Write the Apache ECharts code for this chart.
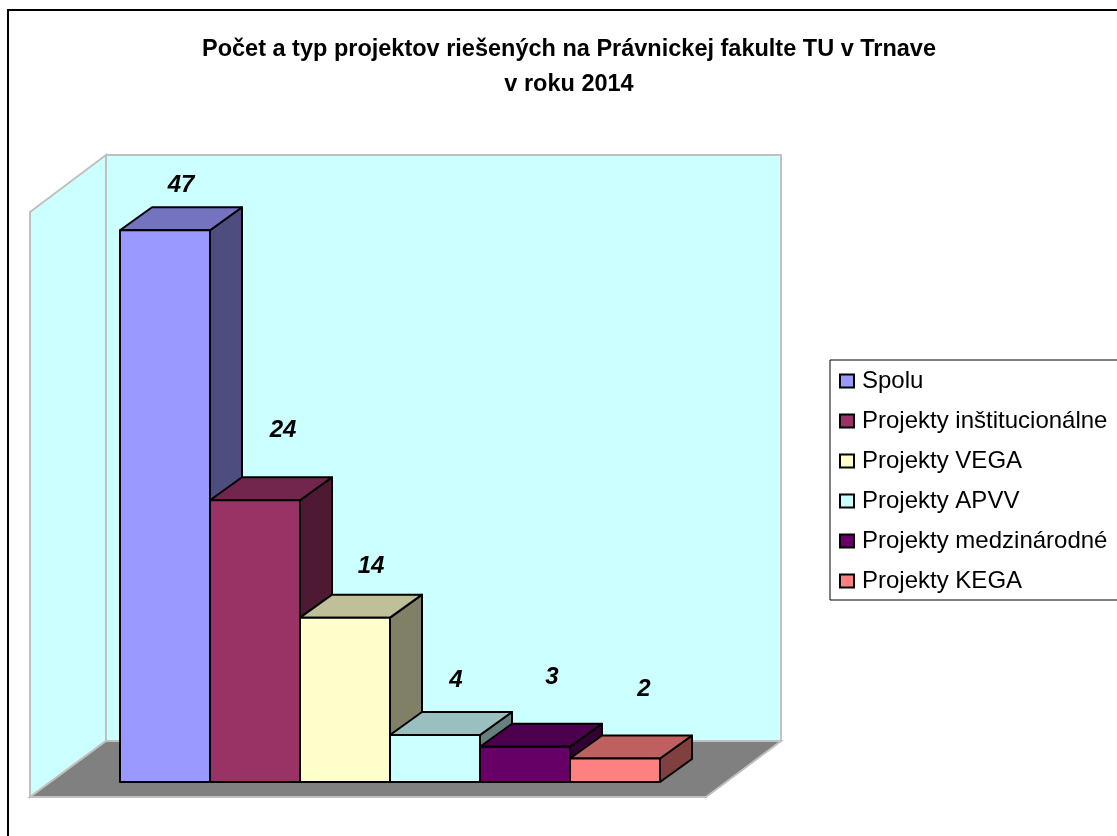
<!DOCTYPE html>
<html>
<head>
<meta charset="utf-8">
<title>Projekty</title>
<style>
	html, body {margin: 0; padding: 0; background: #fff;}
	#chart {width: 1117px; height: 836px;}
</style>
<script src="https://cdn.jsdelivr.net/npm/echarts@6/dist/echarts.min.js"></script>
</head>
<body>
<div id="chart"></div>
<script>
const titleText = "Počet a typ projektov riešených na Právnickej fakulte TU v Trnave\nv roku 2014";
const categories = ["Spolu", "Projekty inštitucionálne", "Projekty VEGA", "Projekty APVV", "Projekty medzinárodné", "Projekty KEGA"];
const values = [47, 24, 14, 4, 3, 2];
const frontColors = ["#9999ff", "#993366", "#ffffcc", "#ccffff", "#660066", "#ff8080"];
const topColors = ["#7373bf", "#73264d", "#bfbf99", "#99bfbf", "#4d004d", "#bf6060"];
const sideColors = ["#4d4d80", "#4d1933", "#808066", "#668080", "#330033", "#804040"];

// hloubka 3D kvadra
let depthX = 32, depthY = -23;
// popisky su v originale rucne posunute
let labelShift = [[16, -45], [28, -70], [26, -51], [21, -55], [27, -69], [29, -69]];

function renderBox(params, api)
{
	let i = params.seriesIndex,
		top = api.coord([api.value(0), api.value(1)]),
		base = api.coord([api.value(0), 0]),
		w = api.size([1, 0])[0],
		x0 = top[0] - w / 2,
		x1 = top[0] + w / 2,
		y0 = top[1],
		y1 = base[1],
		line = {stroke: "#000", lineWidth: 2, lineJoin: "round"};
	
	return {
		type: "group",
		children: [
			{
				type: "polygon",
				shape: {points: [[x1, y0], [x1 + depthX, y0 + depthY], [x1 + depthX, y1 + depthY], [x1, y1]]},
				style: {fill: sideColors[i], ...line}
			},
			{
				type: "polygon",
				shape: {points: [[x0, y0], [x0 + depthX, y0 + depthY], [x1 + depthX, y0 + depthY], [x1, y0]]},
				style: {fill: topColors[i], ...line}
			},
			{
				type: "rect",
				shape: {x: x0, y: y0, width: w, height: y1 - y0},
				style: {fill: frontColors[i], ...line}
			},
			{
				type: "text",
				style: {
					x: top[0] + labelShift[i][0],
					y: y0 + labelShift[i][1],
					text: String(api.value(1)),
					fill: "#000",
					font: "italic bold 24px 'Liberation Sans'",
					align: "center",
					verticalAlign: "middle"
				}
			}
		]
	};
}

let wallStyle = {fill: "#ccffff", stroke: "#c0c0c0", lineWidth: 2};

let option = {
	animation: false,
	backgroundColor: "#fff",
	title: {
		text: titleText,
		left: 564,
		top: 27,
		textAlign: "center",
		textStyle: {
			fontFamily: "Liberation Sans",
			fontSize: 23.5,
			fontWeight: "bold",
			color: "#000",
			lineHeight: 35
		}
	},
	legend: {
		orient: "vertical",
		left: 830,
		top: 360,
		padding: [9, 30, 7, 9],
		backgroundColor: "#fff",
		borderColor: "#000",
		borderWidth: 1,
		icon: "rect",
		itemWidth: 14,
		itemHeight: 13,
		itemGap: 16,
		data: categories.map((name, i) => ({
			name: name,
			itemStyle: {color: frontColors[i], borderColor: "#000", borderWidth: 2}
		})),
		textStyle: {
			fontFamily: "Liberation Sans",
			fontSize: 24,
			color: "#000",
			lineHeight: 24,
			padding: [0, 0, 0, 3]
		}
	},
	grid: {left: 120, top: 195, width: 540, height: 587},
	xAxis: {type: "category", data: categories, show: false},
	yAxis: {type: "value", min: 0, max: 50, show: false},
	graphic: [
		{
			type: "polyline",
			z: 0,
			shape: {points: [[8, 836], [8, 10], [1117, 10]]},
			style: {fill: null, stroke: "#000", lineWidth: 2}
		},
		{
			type: "rect",
			z: 0,
			shape: {x: 106, y: 155, width: 675, height: 586},
			style: wallStyle
		},
		{
			type: "polygon",
			z: 0,
			shape: {points: [[30, 212], [106, 155], [106, 741], [30, 797]]},
			style: wallStyle
		},
		{
			type: "polygon",
			z: 0,
			shape: {points: [[30, 797], [106, 741], [781, 741], [706, 797]]},
			style: {fill: "#808080", stroke: "#c0c0c0", lineWidth: 2}
		}
	],
	series: categories.map((name, i) => ({
		type: "custom",
		name: name,
		coordinateSystem: "cartesian2d",
		renderItem: renderBox,
		silent: true,
		encode: {x: 0, y: 1},
		data: [[i, values[i]]]
	}))
};

let chart = echarts.init(document.getElementById("chart"));
chart.setOption(option);
</script>
</body>
</html>
